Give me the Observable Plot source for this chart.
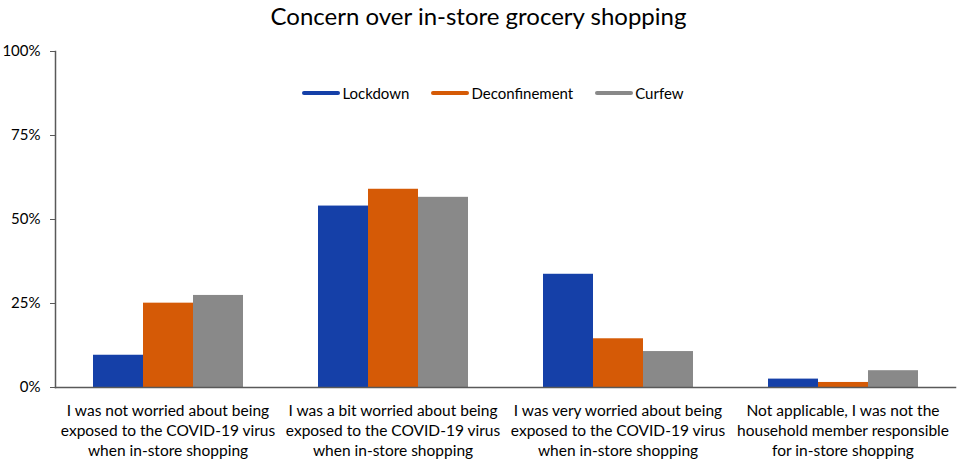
<!DOCTYPE html>
<html>
<head>
<meta charset="utf-8">
<script src="https://cdn.jsdelivr.net/npm/d3@7"></script>
<script src="https://cdn.jsdelivr.net/npm/@observablehq/plot@0.6"></script>
<style>
  body { margin: 0; background: #fff; font-family: Lato, "Open Sans", sans-serif; }
  #wrap { position: relative; width: 957px; height: 462px; }
  #title { height: 40px; line-height: 31px; text-align: center; font-size: 24px; color: #000; }
  #legend { position: absolute; top: 84px; left: 3px; width: 980px; display: flex; justify-content: center; gap: 22px; font-size: 15px; color: #000; }
  #legend .item { display: flex; align-items: center; }
  #legend .sw { width: 38px; height: 4px; border-radius: 2px; margin-right: 2px; }
</style>
</head>
<body>
<div id="wrap">
  <div id="title">Concern over in-store grocery shopping</div>
  <div id="chart"></div>
  <div id="legend"></div>
</div>
<script>
const categories = [
  "I was not worried about being\nexposed to the COVID-19 virus\nwhen in-store shopping",
  "I was a bit worried about being\nexposed to the COVID-19 virus\nwhen in-store shopping",
  "I was very worried about being\nexposed to the COVID-19 virus\nwhen in-store shopping",
  "Not applicable, I was not the\nhousehold member responsible\nfor in-store shopping"
];
const series = ["Lockdown", "Deconfinement", "Curfew"];
const colors = ["#1540a8", "#d55a06", "#898989"];
const lockdown = [9.6, 54.0, 33.7, 2.5];
const deconfinement = [25.1, 59.0, 14.5, 1.5];
const curfew = [27.4, 56.6, 10.7, 5.0];
const yTicks = [0, 25, 50, 75, 100];

const valuesBySeries = [lockdown, deconfinement, curfew];
const data = series.flatMap((s, i) =>
  categories.map((c, j) => ({ category: c, series: s, value: valuesBySeries[i][j] }))
);

const chart = Plot.plot({
  width: 957,
  height: 422,
  marginTop: 11,
  marginBottom: 75,
  marginLeft: 55,
  marginRight: 2,
  style: { fontFamily: "Lato, 'Open Sans', sans-serif", fontSize: "15px", color: "#000", background: "#fff" },
  fx: { domain: categories, padding: 0, label: null },
  x: { domain: series, paddingInner: 0, paddingOuter: 0.75, axis: null },
  y: { domain: [0, 100], label: null },
  color: { domain: series, range: colors },
  marks: [
    Plot.barY(data, { fx: "category", x: "series", y: "value", fill: "series" }),
    Plot.frame({ anchor: "bottom", facet: "super", stroke: "#595959", strokeWidth: 1.5 }),
    Plot.frame({ anchor: "left", facet: "super", stroke: "#595959", strokeWidth: 1.5 }),
    Plot.axisY({ ticks: yTicks, tickFormat: d => d + "%", tickSize: 5, tickPadding: 10, stroke: "#595959", fill: "#000", fontSize: 15, label: null }),
    Plot.axisFx({ anchor: "bottom", tickSize: 0, tickPadding: 14, lineHeight: 1.3, fontSize: 15.5, fill: "#000", label: null })
  ]
});
document.getElementById("chart").appendChild(chart);

const legend = document.getElementById("legend");
series.forEach((s, i) => {
  const item = document.createElement("div");
  item.className = "item";
  const sw = document.createElement("span");
  sw.className = "sw";
  sw.style.background = colors[i];
  const t = document.createElement("span");
  t.textContent = s;
  item.appendChild(sw);
  item.appendChild(t);
  legend.appendChild(item);
});
</script>
</body>
</html>
